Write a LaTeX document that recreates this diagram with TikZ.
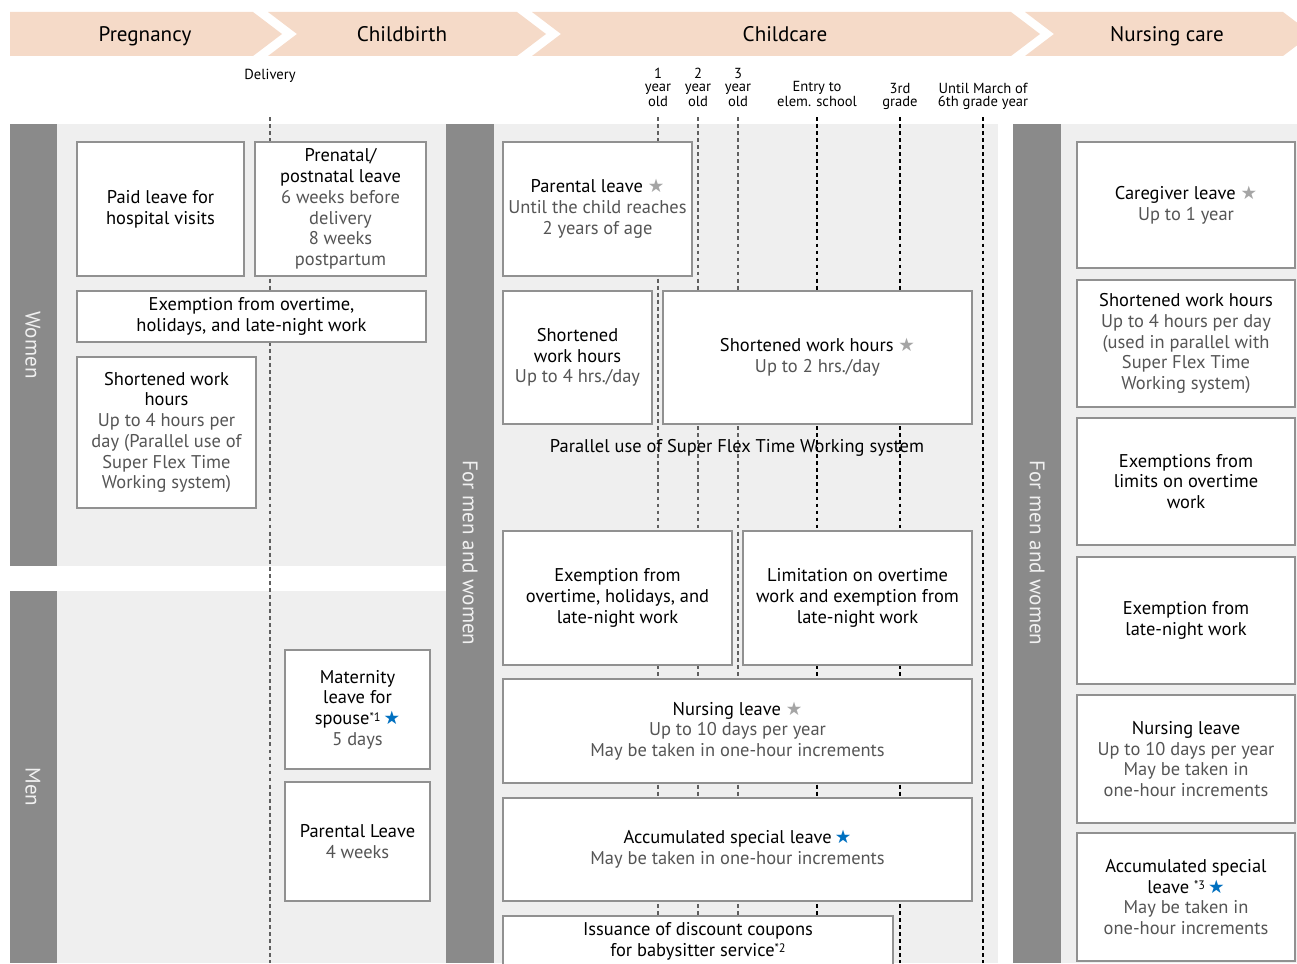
\documentclass[tikz,border=0pt]{standalone}
\usepackage{fontspec}
\setmainfont{PT Sans}
\newfontfamily\symfont{DejaVu Sans}
\usepackage{xcolor}
\usepackage{tikz}
\usetikzlibrary{positioning}
\definecolor{headpeach}{RGB}{245,218,200}
\definecolor{bardark}{RGB}{138,138,138}
\definecolor{panellight}{RGB}{239,239,239}
\definecolor{boxline}{RGB}{145,145,145}
\definecolor{detailgray}{RGB}{85,85,85}
\definecolor{guidegray}{RGB}{95,95,95}
\definecolor{stargray}{RGB}{165,165,165}
\definecolor{starblue}{RGB}{0,112,192}

\newcommand{\detail}[1]{{\color{detailgray}#1}}
\newcommand{\gstar}{{\symfont\color{stargray}★}}
\newcommand{\bstar}{{\symfont\color{starblue}★}}
\newcommand{\note}[1]{\raisebox{0.35ex}{\fontsize{7}{7}\selectfont *#1}}

\begin{document}
\begin{tikzpicture}[
    x=0.02cm, y=-0.02cm,
    policy/.style 2 args={rectangle, draw=boxline, line width=0.8pt, fill=white, align=center,
        inner sep=0pt, minimum width=#1*0.02cm, minimum height=#2*0.02cm,
        font=\fontsize{10.5}{11.8}\selectfont},
    stage/.style={anchor=base, font=\fontsize{12}{14}\selectfont},
    side/.style={rotate=-90, text=white!94!black, font=\fontsize{12}{14}\selectfont},
    tlabel/.style={anchor=south, inner sep=0pt, text depth=0pt, align=center,
        font=\fontsize{8.3}{7.4}\selectfont},
    guide/.style={dash pattern=on 2.2pt off 1.8pt, line width=0.6pt},
    every node/.style={inner sep=1pt}
]
\useasboundingbox (0,0) rectangle (1297,963);

% stage band
\fill[headpeach] (10,12) -- (253,12) -- (282,34) -- (253,56) -- (10,56) -- cycle;
\fill[headpeach] (268,12) -- (517,12) -- (546,34) -- (517,56) -- (268,56) -- (297,34) -- cycle;
\fill[headpeach] (532,12) -- (1011,12) -- (1040,34) -- (1011,56) -- (532,56) -- (561,34) -- cycle;
\fill[headpeach] (1025,12) -- (1283,12) -- (1312,34) -- (1283,56) -- (1025,56) -- (1054,34) -- cycle;
\node[stage] (pregnancy) at (145,42) {Pregnancy};
\node[stage] (childbirth) at (402,42) {Childbirth};
\node[stage] (childcare) at (785,42) {Childcare};
\node[stage] (nursing) at (1167,42) {Nursing care};

% time points
\node[tlabel] (delivery) at (270,80) {Delivery};
\node[tlabel] (age1) at (658,107) {1\\year\\old};
\node[tlabel] (age2) at (698,107) {2\\year\\old};
\node[tlabel] (age3) at (738,107) {3\\year\\old};
\node[tlabel] (elem) at (817,107) {Entry to\\elem. school};
\node[tlabel] (grade3) at (900,107) {3rd\\grade};
\node[tlabel] (grade6) at (983,107) {Until March of\\6th grade year};

% panels
\fill[panellight] (57,124) rectangle (446,566);
\fill[panellight] (57,591) rectangle (446,963);
\fill[panellight] (494,124) rectangle (998,963);
\fill[panellight] (1061,124) rectangle (1297,963);
\fill[bardark] (10,124) rectangle (57,566);
\fill[bardark] (10,591) rectangle (57,963);
\fill[bardark] (446,124) rectangle (494,963);
\fill[bardark] (1013,124) rectangle (1061,963);
\node[side] (women) at (33,345) {Women};
\node[side] (men) at (33,787) {Men};
\node[side] (both1) at (470,553) {For men and women};
\node[side] (both2) at (1037,553) {For men and women};

% dashed guides
\foreach \x in {270,658,698,738} {
    \draw[guide, guidegray] (\x,117) -- (\x,963);
}
\foreach \x in {817,900,983} {
    \draw[guide, black] (\x,117) -- (\x,963);
}

% women
\node[policy={167}{134}] (hospital) at (160.5,209) {Paid leave for\\hospital visits};
\node[policy={171}{134}] (prenatal) at (340.5,209) {Prenatal/\\postnatal leave\\\detail{6 weeks before}\\\detail{delivery}\\\detail{8 weeks}\\\detail{postpartum}};
\node[policy={349}{51}] (exemptW) at (251.5,316.5) {Exemption from overtime,\\holidays, and late-night work};
\node[policy={179}{151}] (shortW) at (166.5,432.5) {Shortened work\\hours\\\detail{Up to 4 hours per}\\\detail{day (Parallel use of}\\\detail{Super Flex Time}\\\detail{Working system)}};

% men
\node[policy={145}{119}] (spouse) at (357.5,709.5) {Maternity\\leave for\\spouse\note{1}\,\bstar\\\detail{5 days}};
\node[policy={145}{119}] (paternal) at (357.5,841.5) {Parental Leave\\\detail{4 weeks}};

% childcare
\node[policy={189}{134}] (parental) at (597.5,209) {Parental leave \gstar\\\detail{Until the child reaches}\\\detail{2 years of age}};
\node[policy={149}{133}] (short4) at (577.5,357.5) {Shortened\\work hours\\\detail{Up to 4 hrs./day}};
\node[policy={309}{133}] (short2) at (817.5,357.5) {Shortened work hours \gstar\\\detail{Up to 2 hrs./day}};
\node[font=\fontsize{10.5}{11.8}\selectfont] (flex) at (737,448) {Parallel use of Super Flex Time Working system};
\node[policy={229}{134}] (exemptC) at (617.5,598) {Exemption from\\overtime, holidays, and\\late-night work};
\node[policy={229}{134}] (limitC) at (857.5,598) {Limitation on overtime\\work and exemption from\\late-night work};
\node[policy={469}{104}] (nursingC) at (737.5,731) {Nursing leave \gstar\\\detail{Up to 10 days per year}\\\detail{May be taken in one-hour increments}};
\node[policy={469}{103}] (accumC) at (737.5,849.5) {Accumulated special leave\,\bstar\\\detail{May be taken in one-hour increments}};
\node[policy={390}{50}] (coupon) at (698,941) {Issuance of discount coupons\\for babysitter service\note{2}};

% nursing care
\node[policy={218}{126}] (caregiver) at (1186,205) {Caregiver leave \gstar\\\detail{Up to 1 year}};
\node[policy={218}{127}] (shortN) at (1186,343.5) {Shortened work hours\\\detail{Up to 4 hours per day}\\\detail{(used in parallel with}\\\detail{Super Flex Time}\\\detail{Working system)}};
\node[policy={218}{127}] (overtimeN) at (1186,481.5) {Exemptions from\\limits on overtime\\work};
\node[policy={218}{127}] (nightN) at (1186,620.5) {Exemption from\\late-night work};
\node[policy={218}{128}] (nursingN) at (1186,759) {Nursing leave\\\detail{Up to 10 days per year}\\\detail{May be taken in}\\\detail{one-hour increments}};
\node[policy={218}{128}] (accumN) at (1186,897) {Accumulated special\\leave \note{3}\,\bstar\\\detail{May be taken in}\\\detail{one-hour increments}};

\end{tikzpicture}
\end{document}
